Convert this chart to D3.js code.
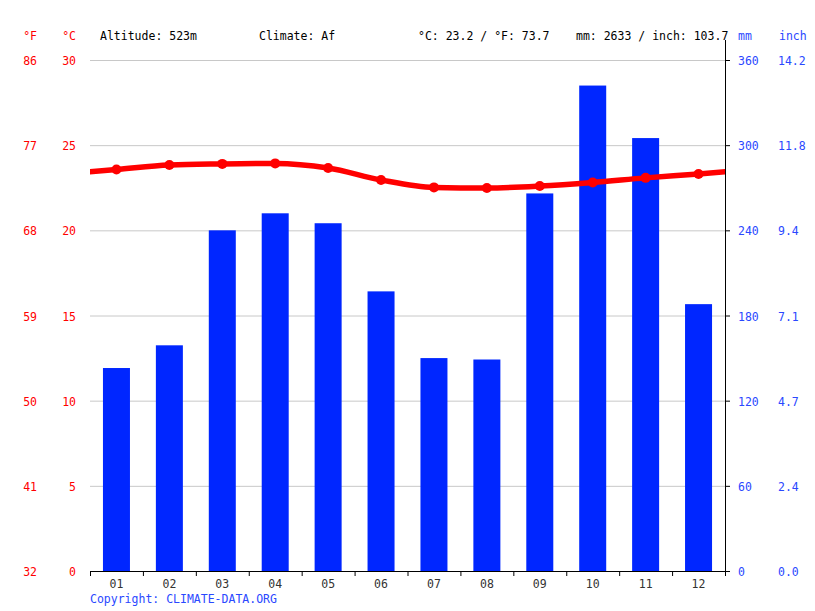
<!DOCTYPE html>
<html><head><meta charset="utf-8">
<script src="https://cdn.jsdelivr.net/npm/d3@7"></script>
<style>body{margin:0;background:#fff}svg{display:block}text{font-family:"DejaVu Sans Mono",monospace;font-size:11.5px}</style>
</head><body><svg id="c" width="815" height="611"></svg>
<script>
const months = ["01","02","03","04","05","06","07","08","09","10","11","12"];
const tempC = [23.57,23.84,23.9,23.93,23.66,22.96,22.52,22.49,22.6,22.81,23.08,23.31];
const precipMm = [143,159,240,252,245,197,150,149,266,342,305,188];
const cTicks = [0,5,10,15,20,25,30];
const fLabels = ["32","41","50","59","68","77","86"];
const mmTicks = [0,60,120,180,240,300,360];
const inchLabels = ["0.0","2.4","4.7","7.1","9.4","11.8","14.2"];

const svg = d3.select("#c");
const L = 90, R = 725, T = 60, B = 571;
const x = d3.scaleBand().domain(months).range([L, R]);
const yC = d3.scaleLinear().domain([0,30]).range([B, T]);
const yMm = d3.scaleLinear().domain([0,360]).range([B, T]);
const red = "#ff0000", blue = "#2a48ff", barBlue = "#0026ff";

// grid
svg.append("g").selectAll("line").data(cTicks.slice(1)).join("line")
  .attr("x1", L).attr("x2", R).attr("y1", d => yC(d)+0.5).attr("y2", d => yC(d)+0.5)
  .attr("stroke", "#c8c8c8").attr("stroke-width", 1);

// bars
svg.append("g").selectAll("rect").data(precipMm).join("rect")
  .attr("x", (d,i) => x(months[i]) + x.bandwidth()/2 - 13.5)
  .attr("width", 27)
  .attr("y", d => yMm(d)).attr("height", d => B - yMm(d))
  .attr("fill", barBlue);

// temperature line with wrap-around
const step = x.bandwidth();
const cx = i => x(months[i]) + step/2;
const pts = [[cx(0)-step, tempC[11]]].concat(tempC.map((t,i)=>[cx(i),t])).concat([[cx(11)+step, tempC[0]]]);
svg.append("clipPath").attr("id","clip").append("rect").attr("x",L).attr("y",0).attr("width",R-L).attr("height",B);
svg.append("path").datum(pts).attr("clip-path","url(#clip)")
  .attr("d", d3.line().x(d=>d[0]).y(d=>yC(d[1])).curve(d3.curveMonotoneX))
  .attr("fill","none").attr("stroke",red).attr("stroke-width",5.5).attr("stroke-linejoin","round");
svg.append("g").selectAll("circle").data(tempC).join("circle")
  .attr("cx",(d,i)=>cx(i)).attr("cy",d=>yC(d)).attr("r",5).attr("fill",red);

// bottom axis
const gx = svg.append("g").attr("transform",`translate(0,${B+1})`)
  .call(d3.axisBottom(x).tickSize(0).tickPadding(8));
gx.select(".domain").remove();
gx.selectAll("text").attr("fill","#333").style("font-size","11.5px").attr("font-family","DejaVu Sans Mono");
svg.append("line").attr("x1",L).attr("x2",R).attr("y1",B+0.5).attr("y2",B+0.5).attr("stroke","#000");
svg.append("g").selectAll("line").data(months).join("line")
  .attr("x1",d=>x(d)+0.5).attr("x2",d=>x(d)+0.5).attr("y1",B).attr("y2",B+5).attr("stroke","#000");
svg.append("line").attr("x1",R+0.5).attr("x2",R+0.5).attr("y1",B).attr("y2",B+5).attr("stroke","#000");

// right axis line
svg.append("line").attr("x1",R+0.5).attr("x2",R+0.5).attr("y1",40).attr("y2",B+5).attr("stroke","#000");
svg.append("g").selectAll("line").data(mmTicks).join("line")
  .attr("x1",R).attr("x2",R+5).attr("y1",d=>yMm(d)+0.5).attr("y2",d=>yMm(d)+0.5).attr("stroke","#000");

// left labels
svg.append("g").selectAll("text").data(cTicks).join("text")
  .attr("x",76).attr("y",d=>yC(d)+5).attr("text-anchor","end").attr("fill",red).text(d=>d);
svg.append("g").selectAll("text").data(fLabels).join("text")
  .attr("x",37).attr("y",(d,i)=>yC(cTicks[i])+5).attr("text-anchor","end").attr("fill",red).text(d=>d);
svg.append("text").attr("x",37).attr("y",40).attr("text-anchor","end").attr("fill",red).text("°F");
svg.append("text").attr("x",76).attr("y",40).attr("text-anchor","end").attr("fill",red).text("°C");

// right labels
svg.append("g").selectAll("text").data(mmTicks).join("text")
  .attr("x",738).attr("y",d=>yMm(d)+5).attr("fill",blue).text(d=>d);
svg.append("g").selectAll("text").data(inchLabels).join("text")
  .attr("x",778).attr("y",(d,i)=>yMm(mmTicks[i])+5).attr("fill",blue).text(d=>d);
svg.append("text").attr("x",738).attr("y",40).attr("fill",blue).text("mm");
svg.append("text").attr("x",779).attr("y",40).attr("fill",blue).text("inch");

// header
svg.append("text").attr("x",100).attr("y",40).attr("fill","#000").text("Altitude: 523m");
svg.append("text").attr("x",259).attr("y",40).attr("fill","#000").text("Climate: Af");
svg.append("text").attr("x",418).attr("y",40).attr("fill","#000").text("°C: 23.2 / °F: 73.7");
svg.append("text").attr("x",576).attr("y",40).attr("fill","#000").text("mm: 2633 / inch: 103.7");
svg.append("text").attr("x",90).attr("y",603).attr("fill",blue).text("Copyright: CLIMATE-DATA.ORG");
</script></body></html>
